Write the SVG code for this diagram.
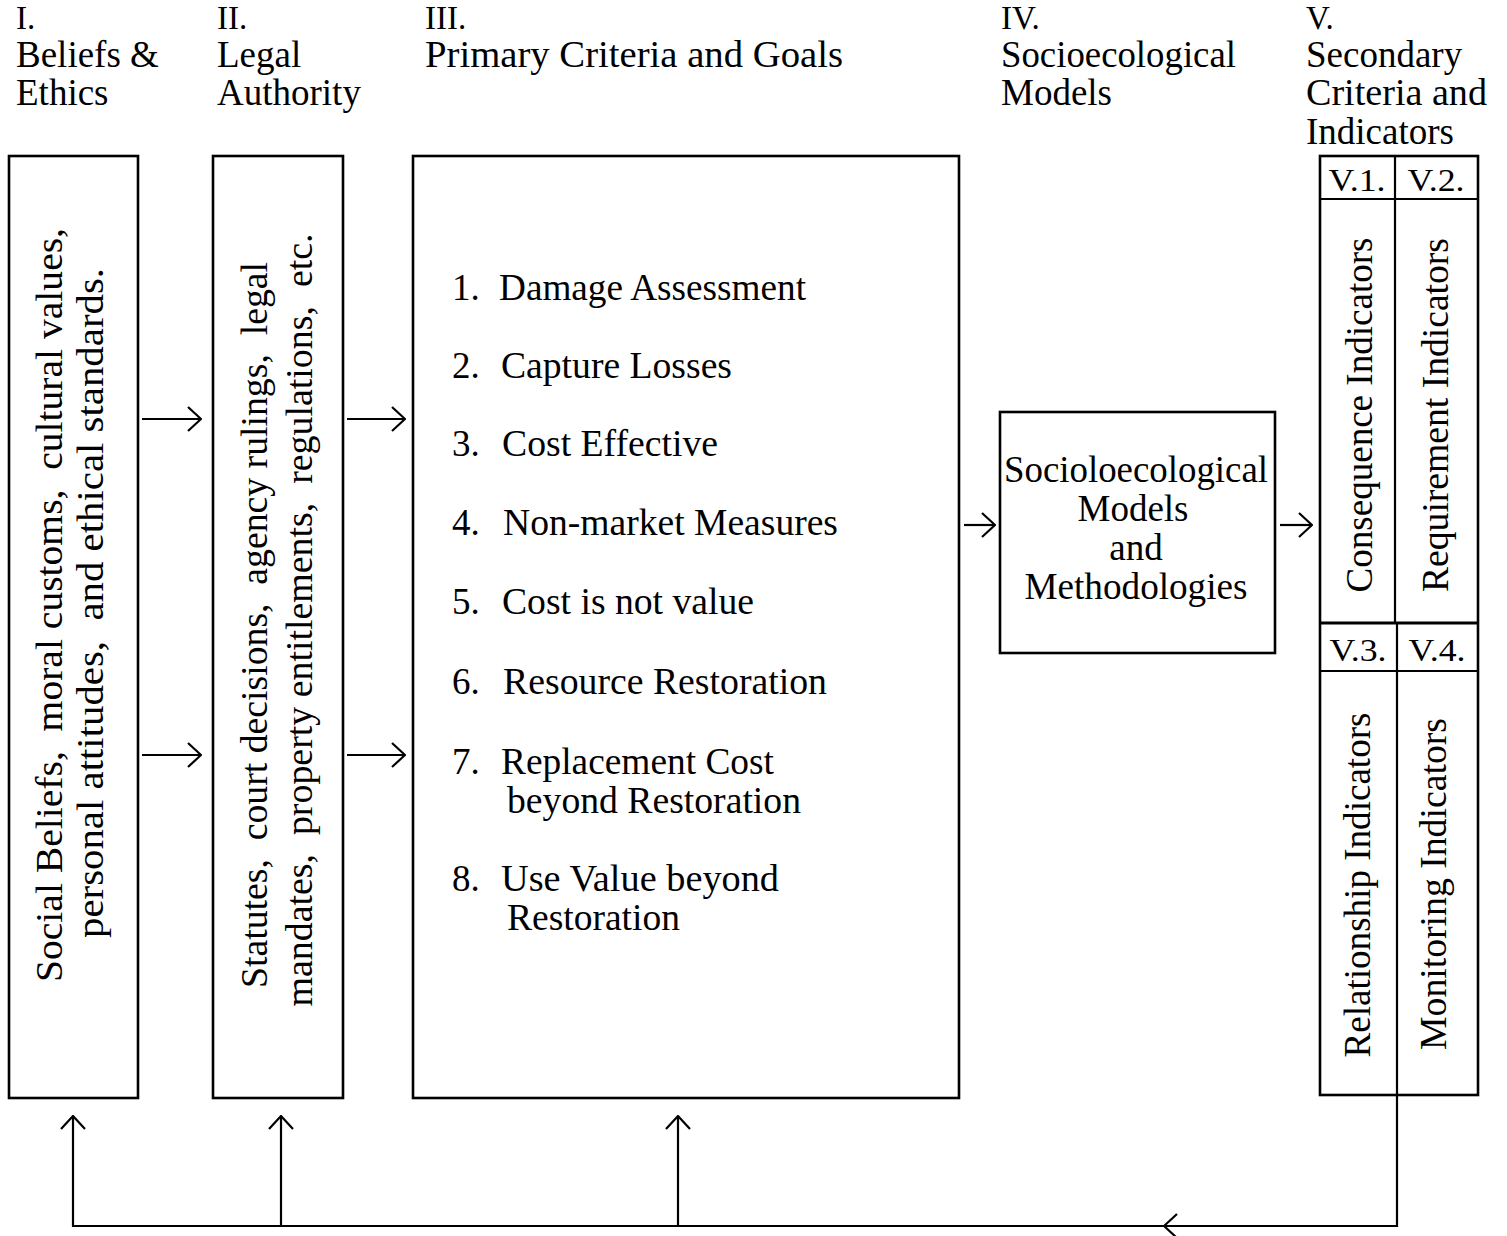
<svg xmlns="http://www.w3.org/2000/svg" width="1507" height="1236" viewBox="0 0 1507 1236">
<style>
text{font-family:"Liberation Serif","Times New Roman",serif;fill:#000}
.h{font-size:37px}
.r{font-size:33px}
.it{font-size:37px}
.v{font-size:38px}
.lab{font-size:32px}
.box{fill:none;stroke:#000;stroke-width:2.6}
.ln{fill:none;stroke:#000;stroke-width:2.2}
.con{fill:none;stroke:#000;stroke-width:2.2}
</style>
<defs>
<marker id="ah" viewBox="0 0 15 26" refX="14" refY="13" markerWidth="15" markerHeight="26" markerUnits="userSpaceOnUse" orient="auto">
<path d="M1,1 L14,13 L1,25" fill="none" stroke="#000" stroke-width="2.2"/>
</marker>
</defs>
<rect width="1507" height="1236" fill="#fff"/>

<g id="headers">
<text class="r" x="16" y="29">I.</text>
<text class="h" x="16" y="67">Beliefs &amp;</text>
<text class="h" x="16" y="105">Ethics</text>
<text class="r" x="217" y="29">II.</text>
<text class="h" x="217" y="67">Legal</text>
<text class="h" x="217" y="105">Authority</text>
<text class="r" x="425" y="29">III.</text>
<text class="h" x="425" y="67" textLength="418" lengthAdjust="spacingAndGlyphs">Primary Criteria and Goals</text>
<text class="r" x="1001" y="29">IV.</text>
<text class="h" x="1001" y="67" textLength="235" lengthAdjust="spacingAndGlyphs">Socioecological</text>
<text class="h" x="1001" y="105">Models</text>
<text class="r" x="1306" y="29">V.</text>
<text class="h" x="1306" y="67">Secondary</text>
<text class="h" x="1306" y="105" textLength="181" lengthAdjust="spacingAndGlyphs">Criteria and</text>
<text class="h" x="1306" y="144">Indicators</text>
</g>

<g id="node-beliefs">
<rect class="box" x="9" y="156" width="129" height="942"/>
<text class="v" x="62" y="605" transform="rotate(-90 62 605)" text-anchor="middle" xml:space="preserve" textLength="754" lengthAdjust="spacingAndGlyphs">Social Beliefs,  moral customs,  cultural values,</text>
<text class="v" x="103" y="603" transform="rotate(-90 103 603)" text-anchor="middle" xml:space="preserve" textLength="670" lengthAdjust="spacingAndGlyphs">personal attitudes,  and ethical standards.</text>
</g>

<g id="node-legal">
<rect class="box" x="213" y="156" width="130" height="942"/>
<text class="v" x="267" y="625" transform="rotate(-90 267 625)" text-anchor="middle" xml:space="preserve" textLength="726" lengthAdjust="spacingAndGlyphs">Statutes,  court decisions,  agency rulings,  legal</text>
<text class="v" x="312" y="620" transform="rotate(-90 312 620)" text-anchor="middle" xml:space="preserve" textLength="773" lengthAdjust="spacingAndGlyphs">mandates,  property entitlements,  regulations,  etc.</text>
</g>

<g id="node-primary">
<rect class="box" x="413" y="156" width="546" height="942"/>
<text class="it" x="452" y="300">1.</text><text class="it" x="499" y="300" textLength="307" lengthAdjust="spacingAndGlyphs">Damage Assessment</text>
<text class="it" x="452" y="378">2.</text><text class="it" x="501" y="378" textLength="231" lengthAdjust="spacingAndGlyphs">Capture Losses</text>
<text class="it" x="452" y="456">3.</text><text class="it" x="502" y="456" textLength="216" lengthAdjust="spacingAndGlyphs">Cost Effective</text>
<text class="it" x="452" y="535">4.</text><text class="it" x="503" y="535" textLength="335" lengthAdjust="spacingAndGlyphs">Non-market Measures</text>
<text class="it" x="452" y="614">5.</text><text class="it" x="502" y="614" textLength="252" lengthAdjust="spacingAndGlyphs">Cost is not value</text>
<text class="it" x="452" y="694">6.</text><text class="it" x="503" y="694" textLength="324" lengthAdjust="spacingAndGlyphs">Resource Restoration</text>
<text class="it" x="452" y="774">7.</text><text class="it" x="501" y="774" textLength="273" lengthAdjust="spacingAndGlyphs">Replacement Cost</text>
<text class="it" x="507" y="813" textLength="294" lengthAdjust="spacingAndGlyphs">beyond Restoration</text>
<text class="it" x="452" y="891">8.</text><text class="it" x="501" y="891" textLength="278" lengthAdjust="spacingAndGlyphs">Use Value beyond</text>
<text class="it" x="507" y="930" textLength="173" lengthAdjust="spacingAndGlyphs">Restoration</text>
</g>

<g id="node-models">
<rect class="box" x="1000" y="412" width="275" height="241"/>
<text class="it" x="1136" y="482" text-anchor="middle" textLength="264" lengthAdjust="spacingAndGlyphs">Socioloecological</text>
<text class="it" x="1133" y="521" text-anchor="middle">Models</text>
<text class="it" x="1136" y="560" text-anchor="middle">and</text>
<text class="it" x="1136" y="599" text-anchor="middle" textLength="223" lengthAdjust="spacingAndGlyphs">Methodologies</text>
</g>

<g id="node-secondary">
<rect class="box" x="1320" y="156" width="158" height="939"/>
<line class="ln" x1="1320" y1="199" x2="1478" y2="199"/>
<line x1="1320" y1="623" x2="1478" y2="623" stroke="#000" stroke-width="3.2"/>
<line class="ln" x1="1320" y1="671" x2="1478" y2="671"/>
<line class="ln" x1="1395" y1="156" x2="1395" y2="623"/>
<line class="ln" x1="1397" y1="623" x2="1397" y2="1095"/>
<text class="lab" x="1357" y="191" text-anchor="middle" textLength="57" lengthAdjust="spacingAndGlyphs">V.1.</text>
<text class="lab" x="1436" y="191" text-anchor="middle" textLength="57" lengthAdjust="spacingAndGlyphs">V.2.</text>
<text class="lab" x="1358" y="661" text-anchor="middle" textLength="57" lengthAdjust="spacingAndGlyphs">V.3.</text>
<text class="lab" x="1437" y="661" text-anchor="middle" textLength="57" lengthAdjust="spacingAndGlyphs">V.4.</text>
<text class="it" x="1372" y="415" transform="rotate(-90 1372 415)" text-anchor="middle" textLength="355" lengthAdjust="spacingAndGlyphs">Consequence Indicators</text>
<text class="it" x="1448" y="415" transform="rotate(-90 1448 415)" text-anchor="middle" textLength="354" lengthAdjust="spacingAndGlyphs">Requirement Indicators</text>
<text class="it" x="1370" y="885" transform="rotate(-90 1370 885)" text-anchor="middle" textLength="345" lengthAdjust="spacingAndGlyphs">Relationship Indicators</text>
<text class="it" x="1446" y="884" transform="rotate(-90 1446 884)" text-anchor="middle" textLength="332" lengthAdjust="spacingAndGlyphs">Monitoring Indicators</text>
</g>

<g id="connectors">
<line class="con" x1="142" y1="419" x2="201" y2="419" marker-end="url(#ah)"/>
<line class="con" x1="142" y1="755" x2="201" y2="755" marker-end="url(#ah)"/>
<line class="con" x1="347" y1="419" x2="405" y2="419" marker-end="url(#ah)"/>
<line class="con" x1="347" y1="755" x2="405" y2="755" marker-end="url(#ah)"/>
<line class="con" x1="964" y1="525" x2="995" y2="525" marker-end="url(#ah)"/>
<line class="con" x1="1280" y1="525" x2="1312" y2="525" marker-end="url(#ah)"/>
<path class="con" d="M1397,1095 V1226 H1164" marker-end="url(#ah)"/>
<path class="con" d="M1164,1226 H73 V1116" marker-end="url(#ah)"/>
<line class="con" x1="281" y1="1226" x2="281" y2="1116" marker-end="url(#ah)"/>
<line class="con" x1="678" y1="1226" x2="678" y2="1116" marker-end="url(#ah)"/>
</g>
</svg>
